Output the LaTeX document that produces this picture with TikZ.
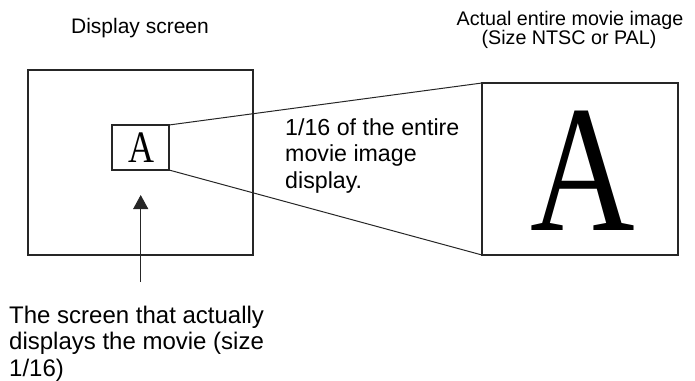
\documentclass[tikz,border=0pt]{standalone}
\usepackage{fontspec}
\setmainfont{Liberation Sans}
\newfontfamily\serifA{Liberation Serif}
\usetikzlibrary{arrows.meta}
\begin{document}
\begin{tikzpicture}[x=1pt,y=-1pt,
  frame/.style={draw=black!85, line width=2.2pt, inner sep=0pt, outer sep=0pt},
  link/.style={draw=black!85, line width=1pt},
  label/.style={inner sep=0pt},
  body/.style={inner sep=0pt, align=left}]
\useasboundingbox (0,0) rectangle (695,380);
% display screen
\node[frame, minimum width=225pt, minimum height=185pt] (screen) at (140.5,162.5) {};
\node[frame, minimum width=57pt, minimum height=45pt] (small) at (140.5,147.5) {};
\node[inner sep=0pt, anchor=base, xscale=0.8, font=\serifA\fontsize{45}{45}\selectfont] (smallA) at (141.5,162) {A};
% actual image
\node[frame, minimum width=196pt, minimum height=172pt] (big) at (580,169) {};
\node[inner sep=0pt, anchor=base, xscale=0.8, font=\serifA\fontsize{181}{181}\selectfont] (bigA) at (583,230) {A};
% connectors
\draw[link] (small.north east) -- (big.north west);
\draw[link] (small.south east) -- (big.south west);
% labels
\node[label, anchor=base, font=\fontsize{21}{25}\selectfont] (dlabel) at (140,33) {Display screen};
\node[label, anchor=base, font=\fontsize{19.7}{24}\selectfont] (alabel1) at (570,25) {Actual entire movie image};
\node[label, anchor=base, font=\fontsize{19.7}{24}\selectfont] (alabel2) at (569,44) {(Size NTSC or PAL)};
\node[body, anchor=north west, font=\fontsize{23.2}{26.5}\selectfont] (mid) at (285,118) {1/16 of the entire\\movie image\\display.};
\node[body, anchor=north west, font=\fontsize{24}{26.5}\selectfont] (bottom) at (9,305.5) {The screen that actually\\displays the movie (size\\1/16)};
% arrow
\coordinate (tail) at (140.7,282);
\coordinate (tip) at (140.7,195);
\draw[link, -{Triangle[width=15pt,length=14pt]}] (tail) -- (tip);
\end{tikzpicture}
\end{document}
